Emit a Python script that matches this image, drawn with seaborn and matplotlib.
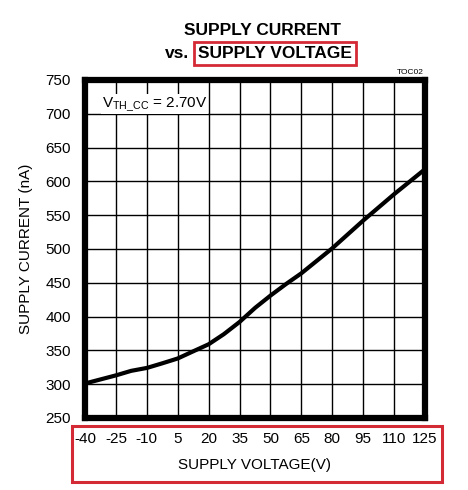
import pandas as pd
import matplotlib.pyplot as plt
import seaborn as sns
from matplotlib.patches import Rectangle

# ================= DATOS =================
voltage = [-40, -25, -17.6, -10, -2.75, 5, 12.1, 20, 27.4, 35, 42.6, 50, 57.5, 65, 80, 95, 110, 125]
current = [301, 313, 319.7, 324, 330.6, 338, 348, 359, 374, 392, 413, 431, 448, 464, 501, 542, 581, 618]
x_ticks = [-40, -25, -10, 5, 20, 35, 50, 65, 80, 95, 110, 125]
y_ticks = [250, 300, 350, 400, 450, 500, 550, 600, 650, 700, 750]

df = pd.DataFrame({'voltage': voltage, 'current': current})

# ================= GRÁFICO =================
sns.set_style("white")
plt.rcParams['font.family'] = ['Liberation Sans', 'DejaVu Sans']
plt.rcParams['mathtext.fontset'] = 'custom'
plt.rcParams['mathtext.rm'] = 'Liberation Sans'
plt.rcParams['axes.unicode_minus'] = False
plt.rcParams['text.color'] = 'black'
plt.rcParams['axes.labelcolor'] = 'black'

fig = plt.figure(figsize=(4.68, 4.90), dpi=100)
ax = fig.add_axes([0.1816, 0.147, 0.7265, 0.6898])

sns.lineplot(data=df, x='voltage', y='current', color='black', linewidth=3.0, ax=ax)

ax.set_xlim(-40, 125)
ax.set_ylim(250, 750)
ax.set_xticks(x_ticks)
ax.set_yticks(y_ticks)
ax.tick_params(length=0, labelsize=11, colors='black')
ax.tick_params(axis='y', pad=10)
ax.tick_params(axis='x', pad=10)
ax.grid(True, color='black', linewidth=1.0)
for s in ax.spines.values():
    s.set_visible(True)
    s.set_color('black')
    s.set_linewidth(4.5)

ax.set_xlabel('SUPPLY VOLTAGE(V)', fontsize=11, labelpad=9)
ax.set_ylabel('SUPPLY CURRENT (nA)', fontsize=11, labelpad=9)

ax.text(0.05, 0.955, r'V$_{\mathregular{TH\_CC}}$ = 2.70V', transform=ax.transAxes,
        fontsize=11, va='top', ha='left',
        bbox=dict(facecolor='white', edgecolor='none', pad=0.5))
fig.text(0.905, 0.845, 'TOC02', fontsize=6, ha='right', va='bottom')

# Títulos
fig.text(0.56, 0.938, 'SUPPLY CURRENT', fontsize=12.5, fontweight='bold',
         ha='center', va='center')
fig.text(0.405, 0.891, 'vs.', fontsize=12.5, fontweight='bold',
         ha='right', va='center')
fig.text(0.588, 0.891, 'SUPPLY VOLTAGE', fontsize=12.5, fontweight='bold',
         ha='center', va='center',
         bbox=dict(facecolor='none', edgecolor='#d42a35', linewidth=2, pad=3))

# Recuadro rojo alrededor del eje X
fig.patches.append(Rectangle((0.153, 0.017), 0.792, 0.114, transform=fig.transFigure,
                             fill=False, edgecolor='#d42a35', linewidth=2.2))

plt.savefig('out.png', dpi=100)
